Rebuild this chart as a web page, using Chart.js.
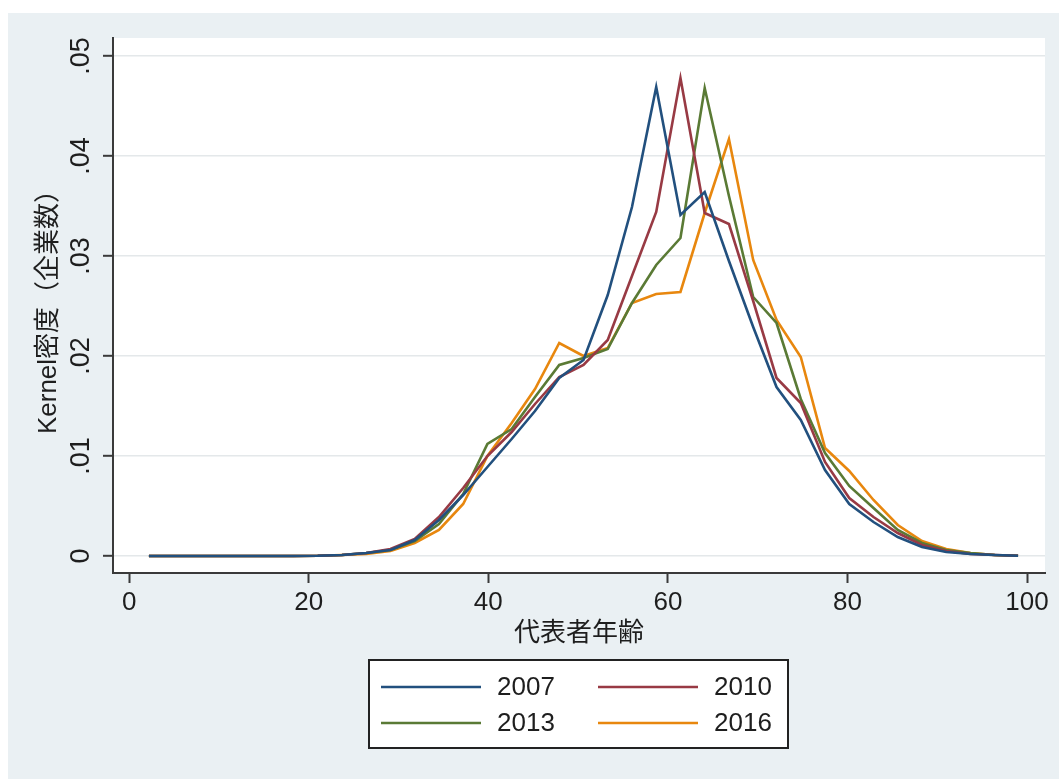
<!DOCTYPE html>
<html lang="ja">
<head>
<meta charset="utf-8">
<title>代表者年齢の分布</title>
<script src="https://cdn.jsdelivr.net/npm/chart.js@4/dist/chart.umd.min.js"></script>
<style>
  html, body { margin: 0; padding: 0; background: #ffffff; }
  #wrap { width: 1059px; height: 779px; }
</style>
</head>
<body>
<div id="wrap"><canvas id="kd" width="1059" height="779"></canvas></div>
<script>
// Evaluation grid (representative's age) and kernel density estimates per survey year
const ages = [2.2, 4.9, 7.6, 10.3, 13.0, 15.7, 18.3, 21.0, 23.7, 26.4, 29.1, 31.8, 34.5,
  37.2, 39.9, 42.6, 45.2, 47.9, 50.6, 53.3, 56.0, 58.7, 61.4, 64.1, 66.8, 69.5,
  72.1, 74.8, 77.5, 80.2, 82.9, 85.6, 88.3, 91.0, 93.7, 96.4, 99.0];

const density2007 = [0, 0, 0, 0, 0, 0, 0, 0.00002, 0.0001, 0.0003, 0.0006, 0.0016, 0.0036,
  0.0061, 0.0089, 0.0117, 0.0145, 0.0178, 0.0196, 0.0261, 0.0349, 0.0469, 0.0341, 0.0364,
  0.0295, 0.0229, 0.0169, 0.0136, 0.0086, 0.0052, 0.0034, 0.0019, 0.0009, 0.0004, 0.0002,
  0.0001, 0.00003];

const density2010 = [0, 0, 0, 0, 0, 0, 0, 0.00002, 0.0001, 0.0003, 0.0007, 0.0017, 0.0039,
  0.0068, 0.0100, 0.0124, 0.0152, 0.0179, 0.0191, 0.0216, 0.0280, 0.0344, 0.0478, 0.0343,
  0.0332, 0.0255, 0.0178, 0.0153, 0.0094, 0.0058, 0.0039, 0.0023, 0.0011, 0.0005, 0.0002,
  0.0001, 0.00003];

const density2013 = [0, 0, 0, 0, 0, 0, 0, 0.00002, 0.0001, 0.0003, 0.0006, 0.0015, 0.0032,
  0.0062, 0.0112, 0.0127, 0.0159, 0.0191, 0.0198, 0.0207, 0.0253, 0.0291, 0.0318, 0.0468,
  0.0360, 0.0259, 0.0233, 0.0157, 0.0103, 0.0070, 0.0048, 0.0026, 0.0013, 0.0006, 0.0003,
  0.0001, 0.00003];

const density2016 = [0, 0, 0, 0, 0, 0, 0, 0.00002, 0.0001, 0.0002, 0.0005, 0.0013, 0.0026,
  0.0052, 0.0100, 0.0133, 0.0167, 0.0213, 0.0200, 0.0208, 0.0253, 0.0262, 0.0264, 0.0343,
  0.0417, 0.0296, 0.0236, 0.0199, 0.0108, 0.0085, 0.0056, 0.0031, 0.0015, 0.0007, 0.0003,
  0.0001, 0.00003];

const seriesLabels = ['2007', '2010', '2013', '2016'];
const seriesColors = ['#22507e', '#983a44', '#5a7a35', '#e8870e'];

const xTickValues = [0, 20, 40, 60, 80, 100];
const xTickLabels = ['0', '20', '40', '60', '80', '100'];
const yTickValues = [0, 0.01, 0.02, 0.03, 0.04, 0.05];
const yTickLabels = ['0', '.01', '.02', '.03', '.04', '.05'];

const xTitle = '代表者年齢';
const yTitle = 'Kernel密度（企業数）';

const LATIN = "'Liberation Sans', Arial, 'Noto Sans CJK JP', sans-serif";
const CJK = "'Noto Sans CJK JP', 'Liberation Sans', sans-serif";
const TEXT = '#1e1e1e';
const AXIS = '#3a3a3a';

const toPoints = (vals) => ages.map((a, i) => ({ x: a, y: vals[i] }));
const allSeries = [density2007, density2010, density2013, density2016];

// Outer graph region, white plot region
const backgroundPlugin = {
  id: 'stataBackground',
  beforeDraw(chart) {
    const { ctx, chartArea: ca, width, height } = chart;
    ctx.save();
    ctx.fillStyle = '#ffffff';
    ctx.fillRect(0, 0, width, height);
    ctx.fillStyle = '#eaf0f3';
    ctx.fillRect(8, 13, width - 8, height - 13);
    ctx.fillStyle = '#ffffff';
    ctx.fillRect(ca.left, ca.top, ca.right - ca.left, ca.bottom - ca.top);
    ctx.restore();
  }
};

// Rotated y tick labels and the boxed two-column legend
const decorPlugin = {
  id: 'stataDecor',
  afterDraw(chart) {
    const { ctx, chartArea: ca } = chart;
    const y = chart.scales.y;
    ctx.save();
    ctx.fillStyle = TEXT;
    ctx.font = '27px ' + LATIN;
    ctx.textAlign = 'center';
    ctx.textBaseline = 'middle';
    yTickValues.forEach((v, i) => {
      const py = y.getPixelForValue(v);
      ctx.save();
      ctx.translate(82, py);
      ctx.rotate(-Math.PI / 2);
      ctx.fillText(yTickLabels[i], 0, 0);
      ctx.restore();
    });

    // legend
    const boxW = 419, boxH = 88;
    const cx = (ca.left + ca.right) / 2;
    const bx = Math.round(cx - boxW / 2) - 1, by = 660;
    ctx.fillStyle = '#ffffff';
    ctx.fillRect(bx, by, boxW, boxH);
    ctx.strokeStyle = '#222222';
    ctx.lineWidth = 2;
    ctx.strokeRect(bx, by, boxW, boxH);
    ctx.font = '26px ' + LATIN;
    ctx.textAlign = 'left';
    chart.data.datasets.forEach((ds, i) => {
      const col = i % 2, row = Math.floor(i / 2);
      const lx = bx + 12 + col * 217;
      const ly = by + 27 + row * 36;
      ctx.strokeStyle = ds.borderColor;
      ctx.lineWidth = 2.6;
      ctx.beginPath();
      ctx.moveTo(lx, ly);
      ctx.lineTo(lx + 100, ly);
      ctx.stroke();
      ctx.fillStyle = TEXT;
      ctx.fillText(ds.label, lx + 116, ly + 1);
    });
    ctx.restore();
  }
};

new Chart(document.getElementById('kd'), {
  type: 'line',
  data: {
    datasets: allSeries.map((vals, i) => ({
      label: seriesLabels[i],
      data: toPoints(vals),
      borderColor: seriesColors[i],
      backgroundColor: seriesColors[i],
      borderWidth: 2.6,
      pointRadius: 0,
      tension: 0,
      fill: false
    }))
  },
  options: {
    responsive: false,
    animation: false,
    devicePixelRatio: 1,
    layout: { padding: { left: 0, top: 38, right: 14, bottom: 0 } },
    plugins: {
      legend: { display: false },
      tooltip: { enabled: false },
      title: { display: false }
    },
    scales: {
      x: {
        type: 'linear',
        min: -1.8,
        max: 102,
        afterBuildTicks(scale) { scale.ticks = xTickValues.map(v => ({ value: v })); },
        afterFit(scale) { scale.height = 206; },
        ticks: {
          autoSkip: false,
          maxRotation: 0,
          padding: 4,
          color: TEXT,
          font: { family: LATIN, size: 26 },
          callback: (v) => xTickLabels[xTickValues.indexOf(v)]
        },
        grid: {
          drawOnChartArea: false,
          drawTicks: true,
          tickLength: 10,
          tickColor: AXIS,
          tickWidth: 2
        },
        border: { display: true, color: AXIS, width: 2 },
        title: {
          display: true,
          text: xTitle,
          color: TEXT,
          font: { family: CJK, size: 26 },
          padding: { top: 0, bottom: 132 }
        }
      },
      y: {
        type: 'linear',
        min: -0.0017,
        max: 0.0518,
        afterBuildTicks(scale) { scale.ticks = yTickValues.map(v => ({ value: v })); },
        afterFit(scale) { scale.width = 113; },
        ticks: { display: false },
        grid: {
          drawOnChartArea: true,
          color: '#e4e8ea',
          lineWidth: 1.6,
          drawTicks: true,
          tickLength: 10,
          tickColor: AXIS,
          tickWidth: 2
        },
        border: { display: true, color: AXIS, width: 2 },
        title: {
          display: true,
          text: yTitle,
          color: TEXT,
          font: { family: LATIN, size: 26 },
          padding: { top: 33, bottom: 0 }
        }
      }
    }
  },
  plugins: [backgroundPlugin, decorPlugin]
});
</script>
</body>
</html>
